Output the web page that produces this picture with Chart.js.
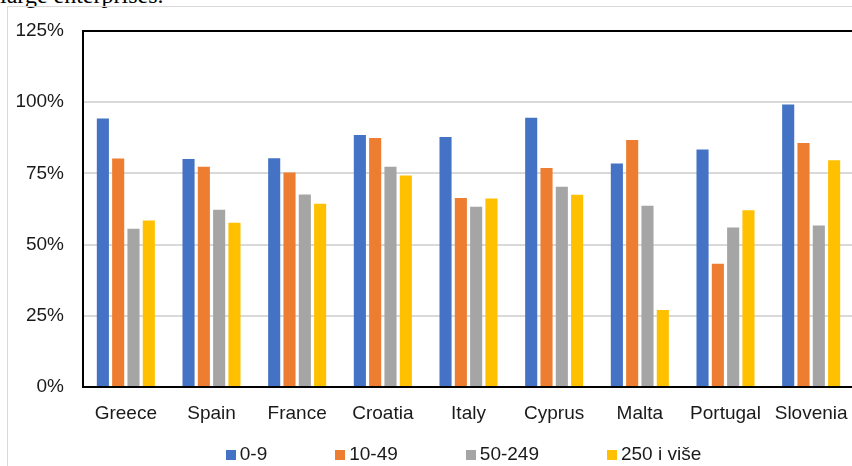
<!DOCTYPE html>
<html>
<head>
<meta charset="utf-8">
<script src="https://cdn.jsdelivr.net/npm/chart.js@4.4.1/dist/chart.umd.min.js"></script>
<style>
  html, body { margin: 0; padding: 0; background: #fff; overflow: hidden; }
  body { width: 852px; height: 466px; position: relative; }
  #caption {
    position: absolute; left: 0; top: -17px;
    font: 24px "Liberation Serif", "DejaVu Serif", serif;
    line-height: 24px; color: #000; white-space: nowrap;
  }
  #frame {
    position: absolute; left: 7px; top: 6px; width: 900px; height: 500px;
    border-left: 1.5px solid #d9d9d9; border-top: 1.5px solid #d9d9d9;
  }
  #wrap { position: absolute; left: 0; top: 0; width: 870px; height: 466px; }
</style>
</head>
<body>
<div id="caption">large enterprises.</div>
<div id="frame"></div>
<div id="wrap"><canvas id="chart"></canvas></div>
<script>
// Share of enterprises by size class (%)
const countries = ['Greece', 'Spain', 'France', 'Croatia', 'Italy', 'Cyprus', 'Malta', 'Portugal', 'Slovenia'];
const size0to9    = [94.3, 80.1, 80.3, 88.5, 87.8, 94.5, 78.5, 83.4, 99.2];
const size10to49  = [80.2, 77.3, 75.3, 87.4, 66.4, 76.9, 86.7, 43.3, 85.7];
const size50to249 = [55.6, 62.2, 67.6, 77.3, 63.3, 70.3, 63.6, 56.0, 56.7];
const size250plus = [58.5, 57.7, 64.3, 74.3, 66.2, 67.5, 27.0, 62.1, 79.6];
const seriesNames = ['0-9', '10-49', '50-249', '250 i više'];
const yTicks = [0, 25, 50, 75, 100, 125];

const COLORS = ['#4472C4', '#ED7D31', '#A5A5A5', '#FFC000'];
const TEXT = '#1a1a1a';
const FONT = '"Liberation Sans", Arial, sans-serif';

// ─── LEGEND (Excel-like spacing: small box, tight text gap, wide item gap) ───
const LEG = { y: 455, box: 10, textGap: 4, itemGap: 68 };

const excelLegend = {
  id: 'excelLegend',
  afterDraw(chart) {
    const { ctx, chartArea } = chart;
    ctx.save();
    ctx.font = '19px ' + FONT;
    ctx.textBaseline = 'middle';
    ctx.textAlign = 'left';
    const items = chart.data.datasets.map(d => ({
      text: d.label, color: d.backgroundColor, w: ctx.measureText(d.label).width
    }));
    const total = items.reduce((s, it) => s + LEG.box + LEG.textGap + it.w, 0)
      + LEG.itemGap * (items.length - 1);
    let x = (chartArea.left + chartArea.right) / 2 - total / 2 - 5;
    items.forEach(it => {
      ctx.fillStyle = it.color;
      ctx.fillRect(Math.round(x), LEG.y - LEG.box / 2, LEG.box, LEG.box);
      x += LEG.box + LEG.textGap;
      ctx.fillStyle = TEXT;
      ctx.fillText(it.text, x, LEG.y);
      x += it.w + LEG.itemGap;
    });
    ctx.restore();
  }
};

const datasets = [size0to9, size10to49, size50to249, size250plus].map((vals, i) => ({
  label: seriesNames[i],
  data: vals,
  backgroundColor: COLORS[i],
  borderWidth: 0,
  barPercentage: 0.79,
  categoryPercentage: 0.715
}));

new Chart(document.getElementById('chart'), {
  type: 'bar',
  data: { labels: countries, datasets },
  plugins: [excelLegend],
  options: {
    responsive: true,
    maintainAspectRatio: false,
    animation: false,
    devicePixelRatio: 1,
    layout: { padding: { left: 0, top: 31, right: 16, bottom: 29 } },
    plugins: {
      tooltip: { enabled: false },
      legend: { display: false }
    },
    scales: {
      x: {
        grid: { display: false },
        border: { display: true, color: '#000', width: 2 },
        ticks: { color: TEXT, padding: 7, maxRotation: 0, autoSkip: false, font: { family: FONT, size: 19 } },
        afterFit: s => { s.height = 50; }
      },
      y: {
        min: yTicks[0],
        max: yTicks[yTicks.length - 1],
        afterBuildTicks: s => { s.ticks = yTicks.map(v => ({ value: v })); },
        grid: {
          drawTicks: false,
          color: c => c.tick.value === 125 ? '#000' : '#d9d9d9',
          lineWidth: 2
        },
        border: { display: true, color: '#000', width: 2 },
        ticks: {
          color: TEXT,
          padding: 19,
          font: { family: FONT, size: 19 },
          callback: v => v + '%'
        },
        afterFit: s => { s.width = 83; }
      }
    }
  }
});
</script>
</body>
</html>
